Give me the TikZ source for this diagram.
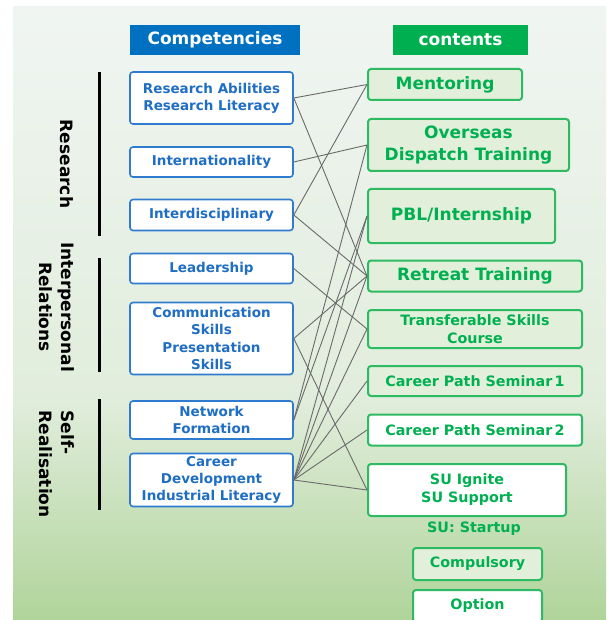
\documentclass[tikz,border=0pt]{standalone}
\usepackage{fontspec}
\setmainfont{DejaVu Sans}
\usepackage{xcolor}
\usepackage{tikz}
\usetikzlibrary{positioning,calc}

\definecolor{compblue}{HTML}{0070C0}
\definecolor{boxblue}{HTML}{2E7BCF}
\definecolor{textblue}{HTML}{1F6EC4}
\definecolor{contgreen}{HTML}{00B050}
\definecolor{boxgreen}{HTML}{2DBA62}
\definecolor{fillgreen}{HTML}{E2EFDA}
\definecolor{bgtop}{HTML}{F0F5F2}
\definecolor{bgmid}{HTML}{E1EDDC}
\definecolor{bgbot}{HTML}{B0D49A}
\definecolor{linkgray}{HTML}{6A6A6A}

\begin{document}
\begin{tikzpicture}[
    x=1pt, y=-1pt,
    head/.style={rectangle, text=white, font=\bfseries\fontsize{17}{20}\selectfont, minimum height=30pt, inner sep=0pt},
    comp/.style={rectangle, draw=boxblue, line width=1.6pt, rounded corners=3pt, fill=white, text=textblue, align=center, font=\bfseries\fontsize{13.5}{17.3}\selectfont, minimum width=163pt, inner sep=0pt},
    cont/.style={rectangle, draw=boxgreen, line width=2pt, rounded corners=3pt, fill=fillgreen, text=contgreen, align=center, font=\bfseries\fontsize{17}{22}\selectfont, inner sep=0pt, anchor=west},
    small/.style={font=\bfseries\fontsize{14.3}{18}\selectfont},
    opt/.style={fill=white},
    group/.style={rotate=-90, font=\bfseries\fontsize{17}{22}\selectfont, align=center},
    bar/.style={line width=3pt},
    link/.style={draw=linkgray, line width=0.9pt}
]

\useasboundingbox (0,0) rectangle (614,620);
\shade[top color=bgtop, bottom color=bgmid] (13,7) rectangle (606,400);
\shade[top color=bgmid, bottom color=bgbot] (13,400) rectangle (606,620);

\node[head, fill=compblue, minimum width=170pt] (hcomp) at (215,40) {Competencies};
\node[head, fill=contgreen, minimum width=135pt] (hcont) at (460.5,40) {contents};

% competencies
\node[comp, minimum height=52pt] (ra) at (211.5,98) {Research Abilities\\Research Literacy};
\node[comp, minimum height=30pt] (intl) at (211.5,162) {Internationality};
\node[comp, minimum height=31pt] (inter) at (211.5,215) {Interdisciplinary};
\node[comp, minimum height=30pt] (lead) at (211.5,268.5) {Leadership};
\node[comp, minimum height=72pt] (comm) at (211.5,338.5) {Communication\\Skills\\Presentation\\Skills};
\node[comp, minimum height=38pt] (net) at (211.5,420) {Network\\Formation};
\node[comp, minimum height=53pt] (career) at (211.5,480) {Career\\Development\\Industrial Literacy};

% contents
\node[cont, minimum width=154pt, minimum height=31pt] (ment) at (367,84.5) {Mentoring};
\node[cont, minimum width=201pt, minimum height=52pt] (over) at (367,145) {Overseas\\Dispatch Training};
\node[cont, minimum width=187pt, minimum height=54pt] (pbl) at (367,216) {PBL/Internship};
\node[cont, minimum width=214pt, minimum height=31pt] (retreat) at (367,276) {Retreat Training};
\node[cont, small, minimum width=214pt, minimum height=38pt] (trans) at (367,329) {Transferable Skills\\Course};
\node[cont, small, minimum width=214pt, minimum height=30pt] (cp1) at (367,381) {Career Path Seminar\,1};
\node[cont, small, opt, minimum width=214pt, minimum height=31pt] (cp2) at (367,430) {Career Path Seminar\,2};
\node[cont, small, opt, minimum width=198pt, minimum height=52pt] (su) at (367,490) {SU Ignite\\SU Support};
\node[text=contgreen, small] (sunote) at (474,529) {SU: Startup};
\node[cont, small, anchor=center, minimum width=129pt, minimum height=32pt] (compul) at (477.5,564) {Compulsory};
\node[cont, small, opt, anchor=center, minimum width=129pt, minimum height=32pt] (option) at (477.5,606) {Option};

% groups
\node[group] (gres) at (67,164) {Research};
\node[group] (ginter) at (57,307) {Interpersonal\\Relations};
\node[group, align=left, anchor=west] (gself) at (57,407) {Self-\\Realisation};
\draw[bar] (99,72) -- (99,236);
\draw[bar] (99,258) -- (99,372);
\draw[bar] (99,399) -- (99,510);

\draw[link] (ra.east) -- (ment.west);
\draw[link] (ra.east) -- (retreat.west);
\draw[link] (intl.east) -- (over.west);
\draw[link] (inter.east) -- (ment.west);
\draw[link] (inter.east) -- (retreat.west);
\draw[link] (lead.east) -- (trans.west);
\draw[link] (comm.east) -- (retreat.west);
\draw[link] (comm.east) -- (su.west);
\draw[link] (net.east) -- (over.west);
\draw[link] (net.east) -- (pbl.west);
\draw[link] (career.east) -- (pbl.west);
\draw[link] (career.east) -- (retreat.west);
\draw[link] (career.east) -- (trans.west);
\draw[link] (career.east) -- (cp1.west);
\draw[link] (career.east) -- (cp2.west);
\draw[link] (career.east) -- (su.west);

\end{tikzpicture}
\end{document}
